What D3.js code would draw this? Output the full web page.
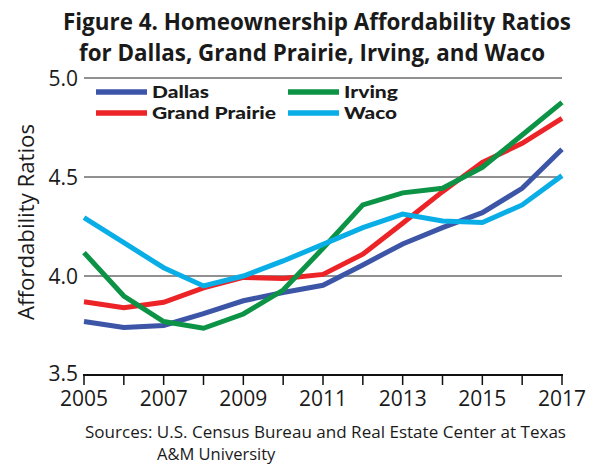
<!DOCTYPE html>
<html>
<head>
<meta charset="utf-8">
<script src="https://cdn.jsdelivr.net/npm/d3@7"></script>
<style>
  body { margin: 0; background: #fff; }
  svg { display: block; }
  text { font-family: "Open Sans", Lato, sans-serif; fill: #1a1a1a; }
  .bold { font-family: Lato, "Open Sans", sans-serif; }
</style>
</head>
<body>
<script>
// data
var years = [2005, 2006, 2007, 2008, 2009, 2010, 2011, 2012, 2013, 2014, 2015, 2016, 2017];
var dallas = [3.77, 3.74, 3.75, 3.81, 3.875, 3.917, 3.953, 4.056, 4.162, 4.244, 4.32, 4.443, 4.64];
var grandPrairie = [3.87, 3.84, 3.867, 3.94, 3.993, 3.988, 4.008, 4.11, 4.266, 4.426, 4.574, 4.67, 4.796];
var irving = [4.118, 3.899, 3.77, 3.736, 3.808, 3.929, 4.14, 4.359, 4.42, 4.443, 4.549, 4.712, 4.877];
var waco = [4.295, 4.168, 4.042, 3.95, 4.0, 4.076, 4.16, 4.244, 4.313, 4.278, 4.27, 4.359, 4.507];
var yTicks = [3.5, 4.0, 4.5, 5.0];
var xTickLabels = [2005, 2007, 2009, 2011, 2013, 2015, 2017];

var series = [
  { name: "Dallas", values: dallas, color: "#3d55a6" },
  { name: "Grand Prairie", values: grandPrairie, color: "#ec2327" },
  { name: "Irving", values: irving, color: "#0c9345" },
  { name: "Waco", values: waco, color: "#0aaee6" }
];

var width = 597, height = 464;
var margin = { left: 84, right: 35, top: 78, bottom: 89 };

var svg = d3.select("body").append("svg")
  .attr("width", width)
  .attr("height", height);

svg.append("rect").attr("width", width).attr("height", height).attr("fill", "#fff");

var x = d3.scaleLinear().domain([2005, 2017]).range([margin.left, width - margin.right]);
var y = d3.scaleLinear().domain([3.5, 5.0]).range([height - margin.bottom, margin.top]);

// title
var title = svg.append("g").attr("class", "bold").attr("font-weight", "bold").attr("font-size", 23.5).attr("text-anchor", "middle");
title.append("text").attr("x", 317).attr("y", 30)
  .attr("textLength", 508).attr("lengthAdjust", "spacingAndGlyphs")
  .text("Figure 4. Homeownership Affordability Ratios");
title.append("text").attr("x", 312).attr("y", 61)
  .attr("textLength", 466).attr("lengthAdjust", "spacingAndGlyphs")
  .text("for Dallas, Grand Prairie, Irving, and Waco");

// gridlines
svg.append("g").selectAll("line")
  .data(yTicks.filter(d => d > 3.5))
  .join("line")
  .attr("x1", x(2005)).attr("x2", x(2017))
  .attr("y1", d => y(d)).attr("y2", d => y(d))
  .attr("stroke", "#222").attr("stroke-width", 1);

// y tick labels
svg.append("g").selectAll("text")
  .data(yTicks)
  .join("text")
  .attr("x", 78).attr("y", d => y(d))
  .attr("dy", d => d === 3.5 ? "0.3em" : "0.36em")
  .attr("text-anchor", "end")
  .attr("font-size", 21)
  .text(d3.format(".1f"));

// x axis
var xAxis = svg.append("g").attr("transform", `translate(0,${y(3.5)})`);
xAxis.append("line").attr("x1", x(2005) - 1).attr("x2", x(2017) + 1)
  .attr("stroke", "#111").attr("stroke-width", 2);
xAxis.selectAll("line.tick")
  .data(years)
  .join("line").attr("class", "tick")
  .attr("x1", d => x(d)).attr("x2", d => x(d))
  .attr("y1", 0).attr("y2", 10)
  .attr("stroke", "#111").attr("stroke-width", 1.5);
xAxis.selectAll("text")
  .data(xTickLabels)
  .join("text")
  .attr("x", d => x(d)).attr("y", 31)
  .attr("text-anchor", "middle")
  .attr("font-size", 21)
  .text(d => d);

// y axis title
svg.append("text")
  .attr("transform", `translate(34,222) rotate(-90)`)
  .attr("text-anchor", "middle")
  .attr("font-size", 21)
  .attr("textLength", 196).attr("lengthAdjust", "spacingAndGlyphs")
  .text("Affordability Ratios");

// lines
var line = d3.line()
  .x((d, i) => x(years[i]))
  .y(d => y(d));

svg.append("g").selectAll("path")
  .data(series)
  .join("path")
  .attr("d", d => line(d.values))
  .attr("fill", "none")
  .attr("stroke", d => d.color)
  .attr("stroke-width", 5);

// legend
var legendPos = [
  { lx: 96, ly: 92, w: 57 },
  { lx: 96, ly: 113, w: 124 },
  { lx: 288, ly: 92, w: 54 },
  { lx: 288, ly: 113, w: 53 }
];
var legend = svg.append("g").selectAll("g")
  .data(series)
  .join("g")
  .attr("transform", (d, i) => `translate(${legendPos[i].lx},${legendPos[i].ly})`);
legend.append("line")
  .attr("x1", 0).attr("x2", 51)
  .attr("stroke", d => d.color).attr("stroke-width", 5.5);
legend.append("text")
  .attr("class", "bold")
  .attr("x", 56).attr("y", 6)
  .attr("font-size", 17).attr("font-weight", 900)
  .attr("textLength", (d, i) => legendPos[i].w).attr("lengthAdjust", "spacingAndGlyphs")
  .text(d => d.name);

// source note
var note = svg.append("g").attr("font-size", 16.5);
note.append("text").attr("x", 85).attr("y", 438)
  .attr("textLength", 481).attr("lengthAdjust", "spacingAndGlyphs")
  .text("Sources: U.S. Census Bureau and Real Estate Center at Texas");
note.append("text").attr("x", 157).attr("y", 460)
  .text("A&M University");
</script>
</body>
</html>
